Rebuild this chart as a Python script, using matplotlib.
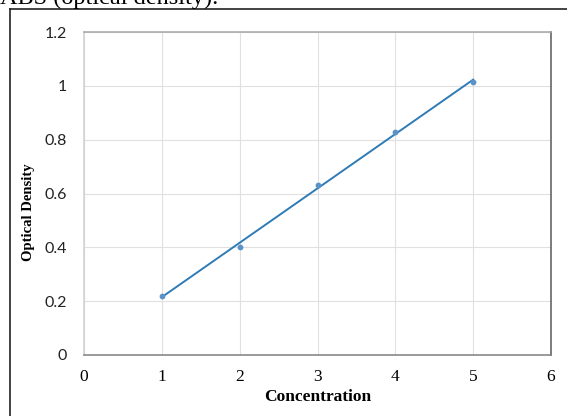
import matplotlib
matplotlib.use("Agg")
import matplotlib.pyplot as plt
from matplotlib.lines import Line2D
import numpy as np

concentration = [1, 2, 3, 4, 5]
optical_density = [0.22, 0.40, 0.63, 0.83, 1.015]
x_ticks = [0, 1, 2, 3, 4, 5, 6]
y_ticks = [0, 0.2, 0.4, 0.6, 0.8, 1, 1.2]
y_tick_labels = ["0", "0.2", "0.4", "0.6", "0.8", "1", "1.2"]

fig = plt.figure(figsize=(5.67, 4.16), dpi=100)
fig.patch.set_facecolor("white")
ax = fig.add_axes([84/567, 1-355/416, (551-84)/567, (355-32)/416])

ax.set_xlim(0, 6)
ax.set_ylim(0, 1.2)
ax.set_xticks(x_ticks)
ax.set_yticks(y_ticks)
ax.set_yticklabels(y_tick_labels)
ax.grid(True, color="#e0e0e0", linewidth=0.8)
ax.set_axisbelow(True)
ax.tick_params(length=0)
for lab in ax.get_xticklabels():
    lab.set_fontfamily("Liberation Serif")
    lab.set_fontsize(12.5)
for lab in ax.get_yticklabels():
    lab.set_fontfamily("Lato")
    lab.set_fontsize(11.5)
    lab.set_color("#222222")
ax.tick_params(axis="x", pad=10)
ax.tick_params(axis="y", pad=12.5)

ax.spines["top"].set_color("#a6a6a6")
ax.spines["right"].set_color("#595959")
ax.spines["bottom"].set_color("#7f7f7f")
ax.spines["left"].set_color("#d0d0d0")
for s in ax.spines.values():
    s.set_linewidth(1.1)

# trendline (linear fit)
coef = np.polyfit(concentration, optical_density, 1)
xs = np.array([concentration[0], concentration[-1]])
ax.plot(xs, np.polyval(coef, xs), color="#2e7bb6", linewidth=1.4, zorder=3)
ax.scatter(concentration, optical_density, s=10, color="#5b93c9", zorder=4)

ax.set_xlabel("Concentration", fontfamily="Liberation Serif", fontweight="bold", fontsize=12.5, labelpad=3)
ax.set_ylabel("Optical Density", fontfamily="Liberation Serif", fontweight="bold", fontsize=10.5)
ax.yaxis.set_label_coords((35-84)/467, (355-212)/323)

# outer border of the chart box
fig.add_artist(Line2D([10/567, 10/567], [0, 1-9/416], transform=fig.transFigure, color="#222222", linewidth=1.2))
fig.add_artist(Line2D([10/567, 1], [1-9/416, 1-9/416], transform=fig.transFigure, color="#222222", linewidth=1.2))

# cut-off text above the chart
fig.text(0.0, 1-4/416, "ABS (optical density).", fontfamily="Liberation Serif", fontsize=17.5, va="baseline", ha="left")

fig.savefig("out.png", dpi=100)
